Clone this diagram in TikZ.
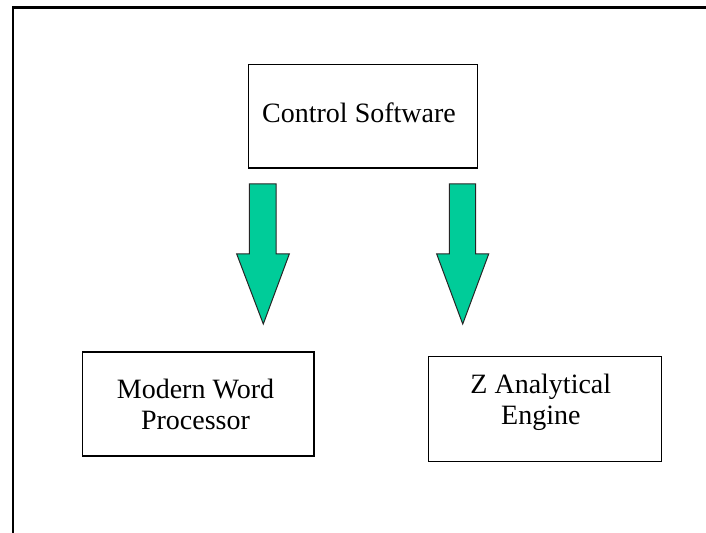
\documentclass[tikz,border=0pt]{standalone}
\usepackage{fontspec}
\setmainfont{Liberation Serif}
\definecolor{blockgreen}{RGB}{0,204,153}
\tikzset{
  box/.style={draw=black, line width=0.6pt, fill=white, inner sep=0pt},
  txt/.style={font=\fontsize{14}{16}\selectfont, inner sep=0pt, anchor=base},
  frameline/.style={line width=1.3pt, line cap=rect},
  blockarrow/.style={draw=black!85, line width=0.5pt, fill=blockgreen, line join=miter}
}
\begin{document}
\begin{tikzpicture}[x=0.5pt, y=-0.5pt]
  \useasboundingbox (0,0) rectangle (706,533);

  % page frame: top and left edges only
  \coordinate (ftl) at (13,7.5);
  \coordinate (ftr) at (706,7.5);
  \coordinate (fbl) at (13,533);
  \draw[frameline] (ftr) -- (ftl) -- (fbl);

  % boxes
  \node[box, minimum width=114.7pt, minimum height=51.65pt] (ctrl) at (363,116.4) {};
  \node[box, minimum width=115.65pt, minimum height=52pt] (wp) at (198.3,404) {};
  \node[box, minimum width=116.7pt, minimum height=52.5pt] (zae) at (545,409.2) {};

  % labels
  \node[txt] (ctrltext) at (359,123) {Control Software};
  \node[txt] (wptext1) at (195.5,398.3) {Modern Word};
  \node[txt] (wptext2) at (195.5,430) {Processor};
  \node[txt] (zaetext1) at (540.8,393.3) {Z Analytical};
  \node[txt] (zaetext2) at (540.8,425) {Engine};

  % block arrows from the control box down to the two targets
  \draw[blockarrow] (249.3,184) -- (276,184) -- (276,254) -- (289.3,254)
        -- (263.3,324) -- (236.7,254) -- (249.3,254) -- cycle;
  \draw[blockarrow] (449.3,184) -- (475.7,184) -- (475.7,254) -- (488.7,254)
        -- (462.7,324) -- (436.7,254) -- (449.3,254) -- cycle;
\end{tikzpicture}
\end{document}
